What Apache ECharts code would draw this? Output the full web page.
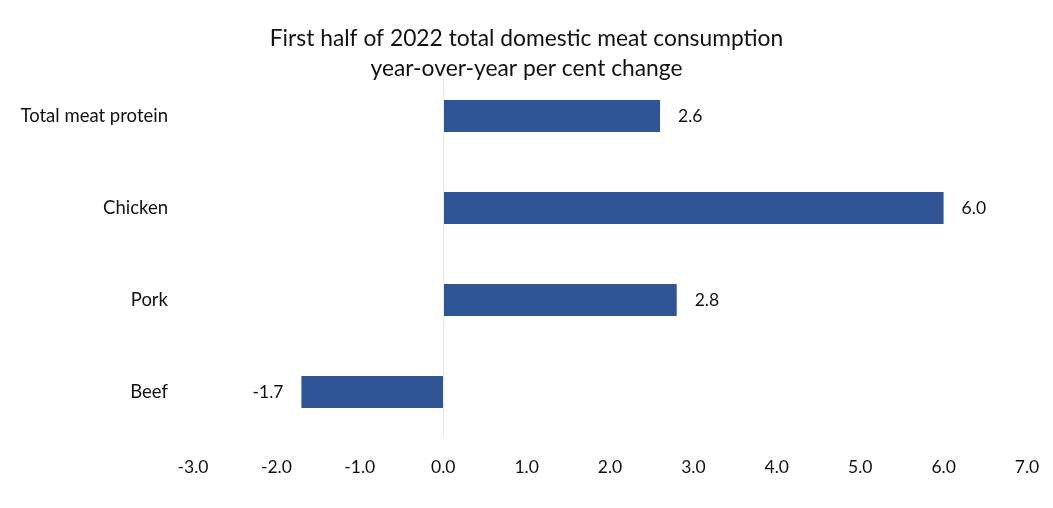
<!DOCTYPE html>
<html>
<head>
<meta charset="utf-8">
<script src="https://cdn.jsdelivr.net/npm/echarts@6/dist/echarts.min.js"></script>
<style>html,body{margin:0;padding:0;background:#fff;}#c{width:1053px;height:508px;}</style>
</head>
<body>
<div id="c"></div>
<script>
const categories = ['Total meat protein', 'Chicken', 'Pork', 'Beef'];
const values = [2.6, 6.0, 2.8, -1.7];
const xTicks = { min: -3, max: 7, interval: 1 };
const titleLines = ['First half of 2022 total domestic meat consumption', 'year-over-year per cent change'];

const FONT = 'Lato, "Open Sans", sans-serif';
const chart = echarts.init(document.getElementById('c'));
chart.setOption({
  animation: false,
  backgroundColor: '#ffffff',
  title: {
    text: titleLines.join('\n'),
    left: 'center',
    top: 19,
    textStyle: { fontFamily: FONT, fontSize: 22.8, fontWeight: 'normal', color: '#111', lineHeight: 30 }
  },
  grid: { left: 193, right: 26, top: 70, bottom: 70 },
  xAxis: {
    type: 'value',
    min: xTicks.min, max: xTicks.max, interval: xTicks.interval,
    axisLine: { show: false },
    axisTick: { show: false },
    splitLine: { show: false },
    axisLabel: { margin: 20, fontFamily: FONT, fontSize: 17.5, color: '#111', formatter: v => v.toFixed(1) }
  },
  yAxis: {
    type: 'category',
    data: categories,
    inverse: true,
    axisLine: { show: false },
    axisTick: { show: false },
    axisLabel: { margin: 25, fontFamily: FONT, fontSize: 18.5, color: '#111' }
  },
  series: [{
    type: 'bar',
    data: values.map(v => ({
      value: v,
      label: { position: v < 0 ? 'left' : 'right' }
    })),
    barWidth: '35%',
    itemStyle: { color: '#2f5597' },
    label: {
      show: true, distance: 18, fontFamily: FONT, fontSize: 17.5, color: '#111',
      formatter: p => p.value.toFixed(1)
    },
    markLine: {
      silent: true, symbol: 'none', label: { show: false },
      lineStyle: { color: '#e6e9ef', type: 'solid', width: 1 },
      data: [{ xAxis: 0 }]
    }
  }]
});
</script>
</body>
</html>
